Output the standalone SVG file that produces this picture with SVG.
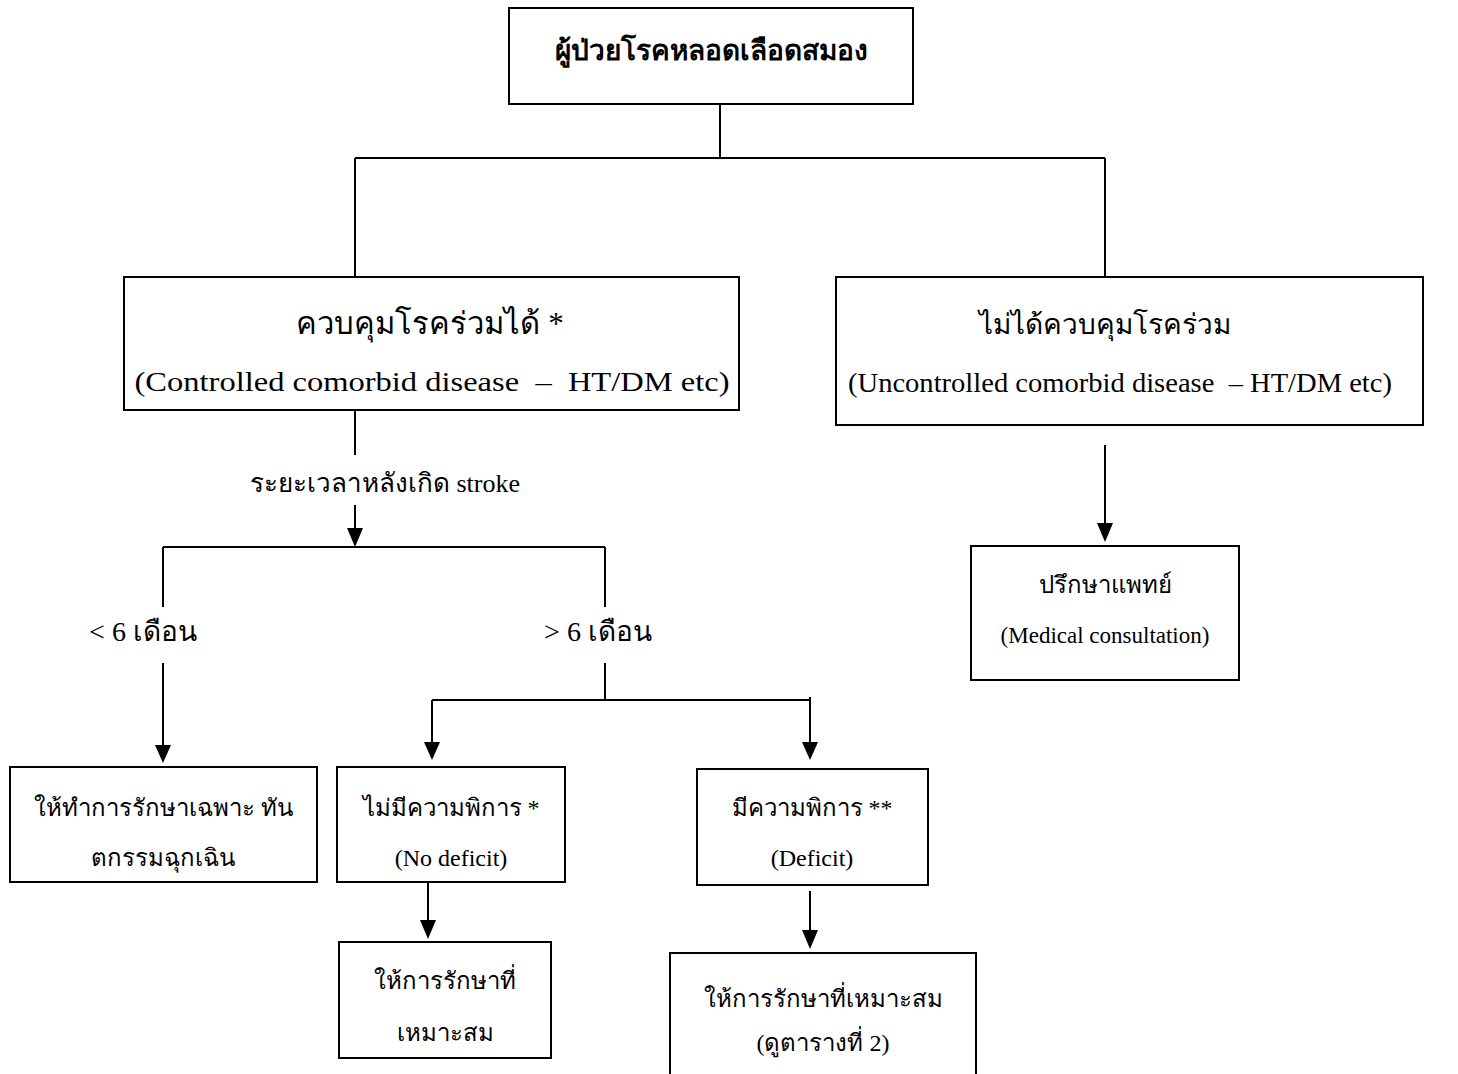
<svg xmlns="http://www.w3.org/2000/svg" width="1458" height="1074" viewBox="0 0 1458 1074">
<style>
.box{fill:#fff;stroke:#000;stroke-width:2}
.ln{fill:none;stroke:#000;stroke-width:2}
text{font-family:"Liberation Serif","Noto Sans CJK SC",serif;fill:#000;text-anchor:middle;white-space:pre}
.big{font-size:28px}
.eng{font-size:28px}
.mid{font-size:24px}
</style>
<rect width="1458" height="1074" fill="#fff"/>
<g id="connectors">
<path class="ln" d="M720,104 V158 M355,158 H1105 M355,158 V277 M1105,158 V277"/>
<path class="ln" d="M355,410 V455"/>
<path class="ln" d="M355,505 V532"/>
<path d="M347,528 L363,528 L355,547 Z" fill="#000"/>
<path class="ln" d="M163,547 H605 M163,547 V607 M605,547 V607"/>
<path class="ln" d="M163,663 V748"/>
<path d="M155,745 L171,745 L163,763 Z" fill="#000"/>
<path class="ln" d="M605,663 V700 M432,700 H810 M432,700 V745 M810,697 V745"/>
<path d="M424,742 L440,742 L432,760 Z" fill="#000"/>
<path d="M802,742 L818,742 L810,760 Z" fill="#000"/>
<path class="ln" d="M428,882 V922"/>
<path d="M420,920 L436,920 L428,939 Z" fill="#000"/>
<path class="ln" d="M810,891 V932"/>
<path d="M802,930 L818,930 L810,949 Z" fill="#000"/>
<path class="ln" d="M1105,445 V525"/>
<path d="M1097,523 L1113,523 L1105,542 Z" fill="#000"/>
</g>
<g id="n-top">
<rect class="box" x="509" y="8" width="404" height="96"/>
<text x="711" y="60" font-size="28" font-weight="bold">ผู้ป่วยโรคหลอดเลือดสมอง</text>
</g>
<g id="n-controlled">
<rect class="box" x="124" y="277" width="615" height="133"/>
<text x="430" y="334" font-size="31">ควบคุมโรคร่วมได้ *</text>
<text class="eng" x="432" y="391" textLength="595" lengthAdjust="spacingAndGlyphs">(Controlled comorbid disease  –  HT/DM etc)</text>
</g>
<g id="n-uncontrolled">
<rect class="box" x="836" y="277" width="587" height="148"/>
<text class="big" x="1105" y="334">ไม่ได้ควบคุมโรคร่วม</text>
<text class="eng" x="1120" y="392" textLength="544" lengthAdjust="spacingAndGlyphs">(Uncontrolled comorbid disease  – HT/DM etc)</text>
</g>
<text x="385" y="492" font-size="26">ระยะเวลาหลังเกิด stroke</text>
<text class="big" x="143" y="641">&lt; 6 เดือน</text>
<text class="big" x="598" y="641">&gt; 6 เดือน</text>
<g id="n-lt6">
<rect class="box" x="10" y="767" width="307" height="115"/>
<text class="mid" x="163" y="816">ให้ทำการรักษาเฉพาะ ทัน</text>
<text class="mid" x="163" y="866">ตกรรมฉุกเฉิน</text>
</g>
<g id="n-nodeficit">
<rect class="box" x="337" y="767" width="228" height="115"/>
<text class="mid" x="451" y="816">ไม่มีความพิการ *</text>
<text class="mid" x="451" y="866">(No deficit)</text>
</g>
<g id="n-deficit">
<rect class="box" x="697" y="769" width="231" height="116"/>
<text class="mid" x="812" y="816">มีความพิการ **</text>
<text class="mid" x="812" y="866">(Deficit)</text>
</g>
<g id="n-treat1">
<rect class="box" x="339" y="942" width="212" height="116"/>
<text class="mid" x="445" y="989">ให้การรักษาที่</text>
<text class="mid" x="445" y="1041">เหมาะสม</text>
</g>
<g id="n-treat2">
<rect class="box" x="670" y="953" width="306" height="130"/>
<text class="mid" x="823" y="1007">ให้การรักษาที่เหมาะสม</text>
<text class="mid" x="823" y="1051">(ดูตารางที่ 2)</text>
</g>
<g id="n-consult">
<rect class="box" x="971" y="546" width="268" height="134"/>
<text class="mid" x="1105" y="593">ปรึกษาแพทย์</text>
<text x="1105" y="643" font-size="23">(Medical consultation)</text>
</g>
</svg>
